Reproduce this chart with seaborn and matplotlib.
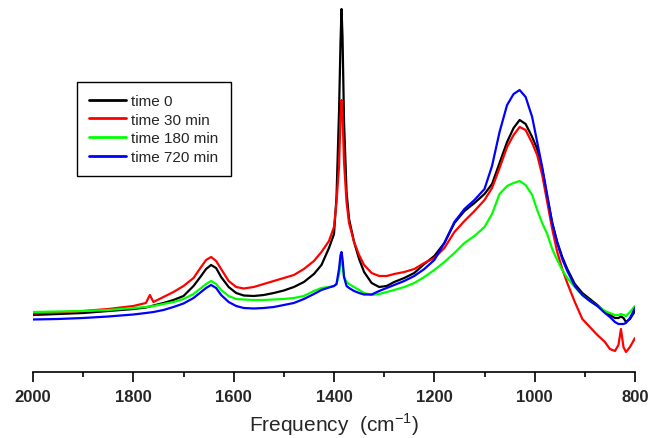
import numpy as np
import pandas as pd
import seaborn as sns
import matplotlib.pyplot as plt
from matplotlib.ticker import MultipleLocator

# wavenumber grid (cm-1) shared by all spectra
freq = [2000, 1950, 1900, 1850, 1800, 1775, 1767, 1760, 1740, 1720,
        1700, 1680, 1665, 1655, 1645, 1635, 1625, 1610, 1595, 1580,
        1560, 1540, 1520, 1500, 1480, 1460, 1440, 1425, 1410, 1400,
        1395, 1390, 1387, 1385, 1383, 1380, 1375, 1370, 1360, 1350,
        1340, 1325, 1310, 1295, 1280, 1260, 1240, 1220, 1200, 1180,
        1160, 1140, 1120, 1100, 1085, 1070, 1055, 1042, 1030, 1018,
        1005, 995, 985, 975, 965, 955, 945, 935, 920, 905,
        890, 875, 860, 850, 840, 833, 828, 823, 818, 810,
        800]

# intensity, arbitrary units
time_0 = [57, 58, 59, 61, 63, 64.5, 65.5, 66.5, 69, 72,
          76, 86, 96, 103, 107, 104, 95, 85, 79, 76.5,
          76, 77, 79, 81.5, 85, 90, 98, 107, 124, 138,
          175, 260, 330, 363, 335, 250, 180, 153, 130, 113,
          100, 89, 85, 86, 90, 94, 99, 108, 116, 129,
          149, 161, 169, 178, 188, 209, 230, 244, 252, 248,
          235, 223, 203, 175, 149, 130, 115, 103, 88, 79,
          73, 67, 60, 57, 54, 54, 55.5, 54, 50, 53,
          61]

time_30 = [58.5, 59.5, 61, 63, 66, 69, 77, 70, 75, 80,
           86, 94, 105, 112, 115, 111, 103, 91, 85, 83.5,
           85, 88, 91, 94, 97, 103, 111, 120, 131, 145,
           170, 205, 255, 272, 257, 210, 170, 149, 130, 117,
           107, 99, 96, 96, 98, 100, 103, 109, 114, 124,
           140, 151, 161, 172, 184, 204, 225, 237, 245, 242,
           229, 217, 197, 170, 143, 120, 103, 89, 70, 53,
           45, 37, 30, 23, 21, 27, 43, 25, 20, 25,
           34]

time_180 = [60, 60.5, 61, 62, 64, 65, 65.5, 66, 68, 70,
            73, 78, 84, 88, 91, 88, 82, 76, 73, 72.5,
            72, 72, 72.5, 73, 74, 76, 81, 84, 85, 86,
            88, 97, 109, 113, 107, 95, 90, 88, 85, 82,
            79, 77, 78, 80, 82, 85, 89, 95, 102, 110,
            119, 129, 136, 145, 158, 178, 186, 189, 191, 187,
            177, 162, 149, 138, 123, 112, 102, 94, 85, 77,
            71, 66, 61, 59, 57, 57, 58, 57, 56, 60,
            66]

time_720 = [52.5, 53, 54, 55.5, 57.5, 59, 59.5, 60, 62, 65,
            68.5, 74, 80, 84, 87, 84, 77, 70, 66, 64,
            63.5, 64, 65, 67, 69, 73, 78, 82, 84.5, 86,
            88, 103, 117, 120, 113, 95, 86, 84, 81, 79,
            77.5, 77.5, 81, 84, 87, 91, 96, 103, 112, 129,
            150, 163, 172, 183, 206, 240, 267, 278, 282, 275,
            255, 230, 205, 177, 149, 129, 113, 101, 86, 77,
            71, 66, 59, 55, 50, 48, 48, 48, 49, 54,
            64]

labels = ["time 0", "time 30 min", "time 180 min", "time 720 min"]
colors = ["#000000", "#ff0000", "#00ff00", "#0000ff"]

frames = []
for lab, vals in zip(labels, [time_0, time_30, time_180, time_720]):
    frames.append(pd.DataFrame({"freq": freq, "intensity": vals, "sample": lab}))
df = pd.concat(frames, ignore_index=True)

sns.set_style("white")
plt.rcParams['font.family'] = ['Liberation Sans', 'DejaVu Sans']

fig = plt.figure(figsize=(6.48, 4.39), dpi=100)
ax = fig.add_axes([33 / 648, 66 / 439, 602 / 648, 369 / 439])

sns.lineplot(data=df, x="freq", y="intensity", hue="sample", palette=colors,
             hue_order=labels, estimator=None, linewidth=1.6, ax=ax)

ax.set_xlim(2000, 800)
ax.set_ylim(0, 369)

sns.despine(ax=ax, left=True, top=True, right=True)
ax.spines['bottom'].set_linewidth(1.2)
ax.spines['bottom'].set_color('black')
ax.set_yticks([])
ax.set_ylabel("")

ax.xaxis.set_major_locator(MultipleLocator(200))
ax.xaxis.set_minor_locator(MultipleLocator(100))
ax.tick_params(axis='x', which='major', direction='out', length=7, width=1.2,
               color='black', bottom=True, labelsize=12, pad=5.5)
ax.tick_params(axis='x', which='minor', direction='out', length=3.5, width=1.2,
               color='black', bottom=True)
for t in ax.get_xticklabels():
    t.set_fontweight('bold')

ax.set_xlabel(r"Frequency  (cm$^{\mathregular{-1}}$)", fontsize=15, labelpad=4)

leg = ax.legend(loc='upper left', bbox_to_anchor=(0.073, 0.786), borderaxespad=0,
                fontsize=11, handlelength=2.4, handletextpad=0.35, labelspacing=0.3,
                borderpad=0.8, frameon=True, fancybox=False, framealpha=1)
leg.get_frame().set_edgecolor('black')
leg.get_frame().set_linewidth(1.0)
for line in leg.get_lines():
    line.set_linewidth(2.0)

fig.savefig("out.png", dpi=100)
